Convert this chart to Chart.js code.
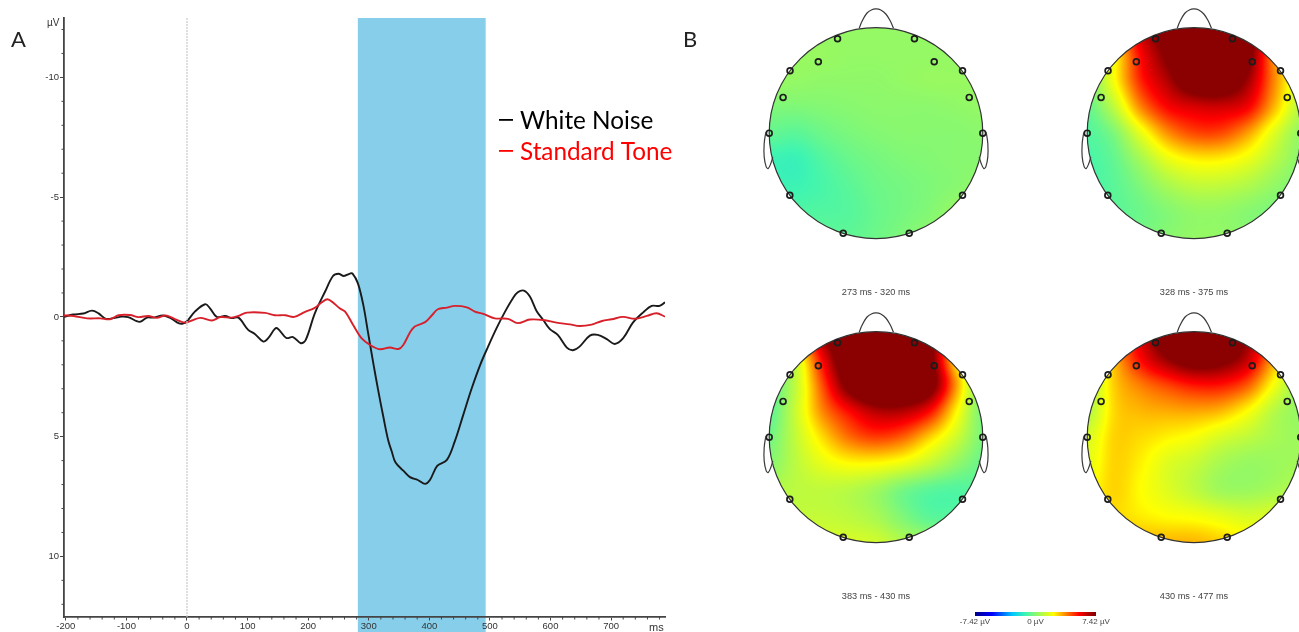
<!DOCTYPE html>
<html><head><meta charset="utf-8">
<style>
html,body{margin:0;padding:0;background:#fff;width:1299px;height:632px;overflow:hidden}
.c{position:absolute}
canvas{display:block;filter:blur(0.35px)}
</style>
<script src="https://cdn.jsdelivr.net/npm/chart.js@4"></script>
</head><body>
<div class="c" style="left:0;top:0;width:720px;height:632px"><canvas id="erp"></canvas></div>
<div class="c" style="left:741px;top:0;width:270px;height:304px"><canvas id="m1"></canvas></div>
<div class="c" style="left:1059px;top:0;width:270px;height:304px"><canvas id="m2"></canvas></div>
<div class="c" style="left:741px;top:304px;width:270px;height:304px"><canvas id="m3"></canvas></div>
<div class="c" style="left:1059px;top:304px;width:270px;height:304px"><canvas id="m4"></canvas></div>
<div class="c" style="left:945px;top:606px;width:181px;height:26px"><canvas id="bar"></canvas></div>
<script>
// ---- Panel A data ----
const whiteNoiseTime=[-203,-188,-171,-157,-146,-134,-119,-108,-97,-83,-77,-66,-56,-39,-25,-14,-7,0,13,30,38,49,63,74,85,101,112,126,134,145,150,164,175,188,196,211,228,241,250,259,269,273,282,291,299,308,316,324,332,338,344,357,368,381,393,401,413,429,442,456,470,484,497,511,525,538,546,556,566,577,588,599,612,627,637,648,665,678,693,706,720,736,753,767,780,789];
const whiteNoise=[0,-.1,-.14,-.26,-.15,.08,.04,-.01,.01,.18,.2,.03,.03,-.06,.08,.26,.28,.18,-.22,-.53,-.36,0,-.04,.05,.03,.54,.71,1.03,.89,.5,.49,.88,.84,1.1,.96,-.15,-1.06,-1.71,-1.8,-1.71,-1.81,-1.82,-1.41,-.5,.68,2,3.12,4.16,5.14,5.62,6.07,6.42,6.69,6.81,6.97,6.81,6.22,5.97,5.2,4.09,2.98,2,1.24,.47,-.22,-.78,-1.03,-1.1,-.85,-.25,.13,.51,.75,1.28,1.39,1.24,.78,.75,.93,1.13,.89,.24,-.19,-.46,-.46,-.61];
const standardToneTime=[-203,-187,-165,-143,-127,-113,-94,-80,-64,-50,-35,-19,-3,8,22,41,55,74,85,99,129,145,162,177,195,211,222,232,241,252,261,274,288,302,318,335,349,357,368,376,393,404,414,429,442,462,475,489,508,530,546,566,588,610,632,648,668,685,701,720,739,759,775,789];
const standardTone=[-.06,-.04,.06,.06,.1,-.07,-.08,.01,-.04,.04,-.06,.1,.24,.15,.04,.15,.01,.03,-.04,-.18,-.17,-.07,-.07,0,-.21,-.38,-.6,-.74,-.6,-.36,-.22,.33,.89,1.17,1.35,1.28,1.34,1.17,.65,.4,.22,-.06,-.32,-.39,-.46,-.4,-.22,-.13,.06,.08,.26,.11,.13,.24,.31,.38,.32,.17,.1,0,.08,-.04,-.15,-.01];
const seriesNames=["White Noise","Standard Tone"];
const xTicks=[-200,-100,0,100,200,300,400,500,600,700];
const yTicks=[-10,-5,0,5,10];
const xMinorTicks=[-180,-160,-140,-120,-80,-60,-40,-20,20,40,60,80,120,140,160,180,220,240,260,280,320,340,360,380,420,440,460,480,520,540,560,580,620,640,660,680,720,740,760,780];
const yMinorTicks=[-12,-11,-9,-8,-7,-6,-4,-3,-2,-1,1,2,3,4,6,7,8,9,11,12];
const highlightWindow=[282,493];

// ---- Panel B data: field read on a 9x9 grid (x -1..1 left to right, y 1..-1 top to bottom), in units of the colour scale ----
const map273=[
 .03,.03,.03,.03,.03,.03,.03,.03,.03,
 .04,.04,.04,.03,.03,.03,.03,.03,.03,
 .04,.03,.02,.02,.02,.03,.04,.04,.04,
 -.02,-.02,-.01,0,.01,.01,.01,.02,.03,
 -.08,-.10,-.06,-.03,-.01,0,0,0,.01,
 -.17,-.18,-.12,-.07,-.04,-.02,-.01,0,0,
 -.16,-.17,-.14,-.10,-.06,-.04,-.02,0,.03,
 -.10,-.12,-.12,-.11,-.07,-.04,-.01,.04,.08,
 -.06,-.08,-.09,-.09,-.06,-.02,.02,.06,.10];
const map328=[
 .3,.5,.85,1.05,1.15,1.15,1.05,.65,.35,
 .05,.3,.72,1.0,1.25,1.3,1.05,.5,.3,
 -.02,.28,.66,.88,1.12,1.15,.92,.5,.2,
 -.08,.14,.5,.72,.8,.82,.74,.42,.12,
 -.12,-.02,.24,.48,.6,.6,.46,.22,.03,
 -.14,-.08,.07,.24,.32,.32,.25,.12,.01,
 -.14,-.10,-.02,.08,.14,.14,.10,.03,-.03,
 -.12,-.10,-.06,-.01,.03,.03,0,-.03,-.05,
 -.10,-.08,-.04,0,.03,.03,.01,-.02,-.04];
const map383=[
 .25,.6,.95,1.3,1.4,1.3,1.0,.6,.25,
 -.05,.2,.74,1.2,1.45,1.45,1.05,.35,-.02,
 -.10,.15,.6,1.05,1.3,1.3,1.08,.47,-.05,
 -.10,.17,.5,.72,.88,.88,.72,.32,-.04,
 -.05,.15,.36,.54,.62,.56,.38,.18,-.03,
 0,.13,.24,.3,.3,.25,.15,.03,-.07,
 .10,.13,.14,.12,.06,-.04,-.10,-.12,-.10,
 .15,.15,.15,.13,.08,-.02,-.10,-.10,-.05,
 .2,.2,.2,.2,.18,.1,.05,.03,.03];
const map430=[
 .5,.6,.8,1.15,1.3,1.25,.95,.6,.4,
 .1,.42,.72,.95,1.1,1.05,.85,.45,.1,
 .08,.38,.52,.62,.7,.7,.58,.28,.03,
 .1,.36,.42,.44,.45,.42,.3,.12,.03,
 .2,.37,.36,.32,.28,.2,.14,.08,.05,
 .24,.37,.32,.22,.16,.08,.04,.05,.07,
 .28,.37,.3,.22,.14,.06,.05,.08,.12,
 .32,.36,.33,.3,.28,.24,.2,.22,.25,
 .38,.4,.42,.42,.42,.38,.32,.3,.3];
const mapTitles=["273 ms - 320 ms","328 ms - 375 ms","383 ms - 430 ms","430 ms - 477 ms"];
const electrodeX=[-.36,.36,-.54,.545,-.805,.81,-.87,.873,-1,1,-.807,.81,-.307,.311];
const electrodeY=[.895,.895,.677,.677,.592,.592,.339,.339,0,0,-.589,-.589,-.95,-.95];
const noseX=[-.157,-.133,-.086,-.039,0,.045,.092,.133,.164];
const noseY=[.994,1.057,1.137,1.171,1.178,1.168,1.13,1.066,.994];
const earLeftX=[-1.032,-1.047,-1.047,-1.028,-1.009,-.985,-.966];
const earRightX=[1.032,1.047,1.047,1.028,1.009,.985,.966];
const earY=[.007,-.098,-.225,-.32,-.335,-.288,-.225];
const colorLimit=7.42;
const colorBarTicks=[-7.42,0,7.42];
const colorBarLabels=["-7.42 µV","0 µV","7.42 µV"];
const colorStops=[[-1,[0,0,139]],[-.72,[0,0,255]],[-.38,[0,200,255]],[-.16,[64,245,176]],[0,[136,248,112]],[.3,[255,255,0]],[.72,[255,0,0]],[.96,[139,0,0]],[1,[139,0,0]]];

function colorAt(t){
  if(t<=colorStops[0][0])return colorStops[0][1];
  for(let i=1;i<colorStops.length;i++){
    if(t<=colorStops[i][0]){
      const a=colorStops[i-1],b=colorStops[i],f=(t-a[0])/(b[0]-a[0]);
      return a[1].map((c,k)=>c+(b[1][k]-c)*f);
    }
  }
  return colorStops[colorStops.length-1][1];
}
function cr(p0,p1,p2,p3,f){return .5*(2*p1+(p2-p0)*f+(2*p0-5*p1+4*p2-p3)*f*f+(3*p1-p0-3*p2+p3)*f*f*f);}
function sample(g,x,y){
  const n=9,u=(x+1)/2*(n-1),v=(1-y)/2*(n-1);
  const iu=Math.min(n-2,Math.max(0,Math.floor(u))),iv=Math.min(n-2,Math.max(0,Math.floor(v)));
  const fu=u-iu,fv=v-iv,at=(r,c)=>g[Math.min(n-1,Math.max(0,r))*n+Math.min(n-1,Math.max(0,c))];
  const row=r=>cr(at(r,iu-1),at(r,iu),at(r,iu+1),at(r,iu+2),fu);
  return cr(row(iv-1),row(iv),row(iv+1),row(iv+2),fv);
}

// ---- Panel A ----
const erpPlugin={id:'erp',
  beforeDraw(c){
    const {ctx,scales:{x},chartArea:a}=c;
    ctx.save();ctx.fillStyle='#87CEEB';
    const l=x.getPixelForValue(highlightWindow[0]),r=x.getPixelForValue(highlightWindow[1]);
    ctx.fillRect(l,a.top,r-l,c.height-a.top);ctx.restore();
  },
  afterDraw(c){
    const {ctx,scales:{x,y},chartArea:a}=c;
    ctx.save();ctx.strokeStyle='#444';ctx.lineWidth=1;
    ctx.beginPath();
    yMinorTicks.forEach(v=>{const p=y.getPixelForValue(v);ctx.moveTo(a.left-2.5,p);ctx.lineTo(a.left,p);});
    xMinorTicks.forEach(v=>{const p=x.getPixelForValue(v);ctx.moveTo(p,a.bottom);ctx.lineTo(p,a.bottom+2.5);});
    ctx.stroke();
    ctx.fillStyle='#333';ctx.font='10px "Liberation Sans"';ctx.textAlign='left';ctx.textBaseline='middle';
    ctx.fillText('µV',47,23);
    ctx.font='11px "Liberation Sans"';ctx.fillText('ms',649,628);
    ctx.fillStyle='#222';ctx.font='22px Lato';ctx.fillText('A',11,40);ctx.fillText('B',683,40);
    [0,1].forEach(i=>{
      const yy=[120,151][i],col=['#000','#f00'][i];
      ctx.fillStyle=col;ctx.fillRect(499,yy-1,14,1.8);
      ctx.font='24.3px Lato';ctx.fillText(seriesNames[i],520,yy+1);
    });
    ctx.restore();
  }};
new Chart(document.getElementById('erp'),{
  type:'scatter',
  data:{datasets:[
    {label:'Stimulus onset',data:[{x:0,y:-12.48},{x:0,y:12.53}],showLine:true,borderColor:'#c9c9c9',borderWidth:1.2,borderDash:[2,1],pointRadius:0},
    {label:seriesNames[1],data:standardToneTime.map((t,i)=>({x:t,y:standardTone[i]})),showLine:true,borderColor:'#d8202a',borderWidth:1.9,pointRadius:0,tension:.35},
    {label:seriesNames[0],data:whiteNoiseTime.map((t,i)=>({x:t,y:whiteNoise[i]})),showLine:true,borderColor:'#1a1a1a',borderWidth:1.9,pointRadius:0,tension:.35}
  ]},
  options:{responsive:true,maintainAspectRatio:false,animation:false,devicePixelRatio:1,
    layout:{padding:{left:0,top:18,right:55,bottom:0}},
    plugins:{legend:{display:false},tooltip:{enabled:false}},
    scales:{
      x:{type:'linear',min:-203,max:789,
        afterFit:s=>{s.height=15;},
        afterBuildTicks:s=>{s.ticks=xTicks.map(v=>({value:v}));},
        border:{color:'#444',width:1.8},
        grid:{display:true,drawOnChartArea:false,drawTicks:true,tickLength:3.5,color:'#444'},
        ticks:{autoSkip:false,maxRotation:0,padding:0,color:'#333',font:{family:'Liberation Sans',size:9.5}}},
      y:{type:'linear',reverse:true,min:-12.48,max:12.53,
        afterFit:s=>{s.width=64;},
        afterBuildTicks:s=>{s.ticks=yTicks.map(v=>({value:v}));},
        border:{color:'#444',width:1.8},
        grid:{display:true,drawOnChartArea:false,drawTicks:true,tickLength:4,color:'#444'},
        ticks:{autoSkip:false,padding:1,color:'#333',font:{family:'Liberation Sans',size:9.5}}}
    }},
  plugins:[erpPlugin]
});

// ---- Panel B ----
const fieldPlugin={id:'field',
  beforeDatasetsDraw(c,args,opts){
    const {ctx,chartArea:a,scales:{x,y}}=c;
    const w=Math.ceil(a.width)+2,h=Math.ceil(a.height)+2,l=Math.floor(a.left)-1,t=Math.floor(a.top)-1;
    const off=document.createElement('canvas');off.width=w;off.height=h;
    const oc=off.getContext('2d'),img=oc.createImageData(w,h);
    for(let j=0;j<h;j++)for(let i=0;i<w;i++){
      const vx=x.getValueForPixel(l+i+.5),vy=y.getValueForPixel(t+j+.5);
      const col=colorAt(sample(opts.grid,Math.max(-1,Math.min(1,vx)),Math.max(-1,Math.min(1,vy))));
      const k=(j*w+i)*4;img.data[k]=col[0];img.data[k+1]=col[1];img.data[k+2]=col[2];img.data[k+3]=255;
    }
    oc.putImageData(img,0,0);
    const cx=x.getPixelForValue(0),cy=y.getPixelForValue(0),rx=a.width/2,ry=a.height/2;
    ctx.save();ctx.beginPath();ctx.ellipse(cx,cy,rx,ry,0,0,Math.PI*2);ctx.clip();ctx.drawImage(off,l,t);ctx.restore();
    ctx.save();ctx.beginPath();ctx.ellipse(cx,cy,rx,ry,0,0,Math.PI*2);ctx.strokeStyle='#333';ctx.lineWidth=1.2;ctx.stroke();ctx.restore();
  }};
const xy=(xs,ys)=>xs.map((v,i)=>({x:v,y:ys[i]}));
function headMap(id,grid,title){
  const line=d=>({data:d,showLine:true,borderColor:'#3a3a3a',borderWidth:1.2,pointRadius:0,tension:.35,clip:false});
  new Chart(document.getElementById(id),{
    type:'scatter',
    data:{datasets:[
      line(xy(noseX,noseY)),line(xy(earLeftX,earY)),line(xy(earRightX,earY)),
      {label:'Electrodes',data:xy(electrodeX,electrodeY),showLine:false,pointRadius:2.9,pointBorderWidth:1.7,pointBorderColor:'#1c1c1c',pointBackgroundColor:'rgba(0,0,0,0)',clip:false}
    ]},
    options:{responsive:true,maintainAspectRatio:false,animation:false,devicePixelRatio:1,
      layout:{padding:{left:28.2,right:28.2,top:27.7,bottom:1.9}},
      plugins:{legend:{display:false},tooltip:{enabled:false},field:{grid},
        title:{display:true,text:title,position:'bottom',color:'#444',font:{family:'Liberation Sans',size:9.2,weight:'normal',lineHeight:1.2},padding:{top:48.5,bottom:4}}},
      scales:{x:{display:false,type:'linear',min:-1,max:1},y:{display:false,type:'linear',min:-1,max:1}}},
    plugins:[fieldPlugin]
  });
}
headMap('m1',map273,mapTitles[0]);
headMap('m2',map328,mapTitles[1]);
headMap('m3',map383,mapTitles[2]);
headMap('m4',map430,mapTitles[3]);

// ---- Colour bar ----
const barPlugin={id:'cbar',
  beforeDatasetsDraw(c){
    const {ctx,chartArea:a,scales:{x}}=c;
    const g=ctx.createLinearGradient(x.getPixelForValue(-colorLimit),0,x.getPixelForValue(colorLimit),0);
    colorStops.forEach(s=>g.addColorStop((s[0]+1)/2,`rgb(${s[1].join(',')})`));
    ctx.save();ctx.fillStyle=g;ctx.fillRect(a.left,a.top,a.width,a.height);ctx.restore();
  }};
new Chart(document.getElementById('bar'),{
  type:'scatter',
  data:{datasets:[{data:[]}]},
  options:{responsive:true,maintainAspectRatio:false,animation:false,devicePixelRatio:1,
    layout:{padding:{left:30,right:30,top:6,bottom:0}},
    plugins:{legend:{display:false},tooltip:{enabled:false}},
    scales:{
      x:{type:'linear',min:-colorLimit,max:colorLimit,
        afterFit:s=>{s.height=16;},
        afterBuildTicks:s=>{s.ticks=colorBarTicks.map(v=>({value:v}));},
        border:{display:false},grid:{display:false,drawTicks:false},
        ticks:{autoSkip:false,maxRotation:0,padding:1,color:'#444',font:{family:'Liberation Sans',size:8},
          callback:(v,i)=>colorBarLabels[i]}},
      y:{display:false,min:0,max:1}}},
  plugins:[barPlugin]
});
</script>
</body></html>
